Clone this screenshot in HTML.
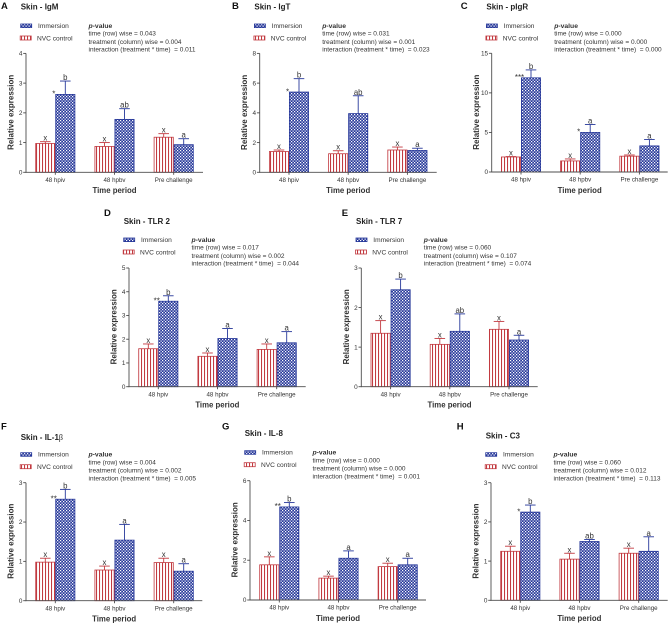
<!DOCTYPE html>
<html lang="en">
<head>
<meta charset="utf-8">
<title>Skin gene expression panels</title>
<style>
html,body{margin:0;padding:0;background:#fff;}
#figure{display:block;width:672px;height:626px;filter:blur(0.3px);}
text{font-family:"Liberation Sans",Arial,sans-serif;fill:#333;white-space:pre;}
</style>
</head>
<body>
<svg id="figure" xmlns="http://www.w3.org/2000/svg" width="672" height="626" viewBox="0 0 672 626">
<defs>
<pattern id="check" patternUnits="userSpaceOnUse" width="3" height="3">
<rect width="3" height="3" fill="#27389a"/>
<rect x="0" y="0" width="1.25" height="1.25" fill="#fff"/>
<rect x="1.5" y="1.5" width="1.25" height="1.25" fill="#fff"/>
</pattern>
<pattern id="stripe" patternUnits="userSpaceOnUse" width="3" height="3">
<rect width="3" height="3" fill="#fff"/>
<rect x="0" y="0" width="1.05" height="3" fill="#c23a40"/>
</pattern>
</defs>
</svg>
<script>
const categories = ["48 hpiv", "48 hpbv", "Pre challenge"];
const seriesNames = ["NVC control", "Immersion"];

const panelIds = ["A", "B", "C", "D", "E", "F", "G", "H"];
const panelGenes = ["IgM", "IgT", "pIgR", "TLR 2", "TLR 7", "IL-1", "IL-8", "C3"];

const yTicksA = [0, 1, 2, 3, 4];
const yTicksB = [0, 2, 4, 6, 8];
const yTicksC = [0, 5, 10, 15];
const yTicksD = [0, 1, 2, 3, 4, 5];
const yTicksE = [0, 1, 2, 3];
const yTicksF = [0, 1, 2, 3];
const yTicksG = [0, 2, 4, 6];
const yTicksH = [0, 1, 2, 3];

const controlA = [0.97, 0.87, 1.18];
const controlErrTopA = [1.03, 1.0, 1.3];
const immersionA = [2.62, 1.78, 0.93];
const immersionErrTopA = [3.07, 2.14, 1.13];

const controlB = [1.4, 1.25, 1.5];
const controlErrTopB = [1.5, 1.45, 1.7];
const immersionB = [5.4, 3.95, 1.47];
const immersionErrTopB = [6.3, 5.15, 1.62];

const controlC = [1.9, 1.4, 2.0];
const controlErrTopC = [1.95, 1.65, 2.15];
const immersionC = [11.9, 5.0, 3.3];
const immersionErrTopC = [12.9, 6.0, 4.1];

const controlD = [1.6, 1.28, 1.57];
const controlErrTopD = [1.8, 1.42, 1.8];
const immersionD = [3.6, 2.03, 1.85];
const immersionErrTopD = [3.83, 2.45, 2.32];

const controlE = [1.35, 1.07, 1.45];
const controlErrTopE = [1.67, 1.22, 1.65];
const immersionE = [2.45, 1.4, 1.18];
const immersionErrTopE = [2.72, 1.84, 1.3];

const controlF = [0.98, 0.78, 0.97];
const controlErrTopF = [1.08, 0.88, 1.08];
const immersionF = [2.58, 1.54, 0.75];
const immersionErrTopF = [2.83, 1.94, 0.94];

const controlG = [1.77, 1.1, 1.68];
const controlErrTopG = [2.17, 1.2, 1.85];
const immersionG = [4.68, 2.1, 1.77];
const immersionErrTopG = [4.9, 2.47, 2.1];

const controlH = [1.25, 1.05, 1.2];
const controlErrTopH = [1.38, 1.2, 1.33];
const immersionH = [2.25, 1.5, 1.25];
const immersionErrTopH = [2.43, 1.55, 1.62];

const lettersA = ["b", "ab", "a"];
const lettersB = ["b", "ab", "a"];
const lettersC = ["b", "a", "a"];
const lettersD = ["b", "a", "a"];
const lettersE = ["b", "ab", "a"];
const lettersF = ["b", "a", "a"];
const lettersG = ["b", "a", "a"];
const lettersH = ["b", "ab", "a"];

const starsA = ["*", "", ""];
const starsB = ["*", "", ""];
const starsC = ["***", "*", ""];
const starsD = ["**", "", ""];
const starsE = ["", "", ""];
const starsF = ["**", "", ""];
const starsG = ["**", "", ""];
const starsH = ["*", "", ""];

const pTimeValues = ["0.043", "0.031", "0.000", "0.017", "0.060", "0.004", "0.000", "0.060"];
const pTreatmentValues = ["0.004", "0.001", "0.000", "0.002", "0.107", "0.002", "0.000", "0.012"];
const pInteractionValues = ["0.011", "0.023", "0.000", "0.044", "0.074", "0.005", "0.001", "0.113"];

const panelData = [
  [yTicksA, controlA, controlErrTopA, immersionA, immersionErrTopA, lettersA, starsA],
  [yTicksB, controlB, controlErrTopB, immersionB, immersionErrTopB, lettersB, starsB],
  [yTicksC, controlC, controlErrTopC, immersionC, immersionErrTopC, lettersC, starsC],
  [yTicksD, controlD, controlErrTopD, immersionD, immersionErrTopD, lettersD, starsD],
  [yTicksE, controlE, controlErrTopE, immersionE, immersionErrTopE, lettersE, starsE],
  [yTicksF, controlF, controlErrTopF, immersionF, immersionErrTopF, lettersF, starsF],
  [yTicksG, controlG, controlErrTopG, immersionG, immersionErrTopG, lettersG, starsG],
  [yTicksH, controlH, controlErrTopH, immersionH, immersionErrTopH, lettersH, starsH]
];

/* Layout only: axis origin, top, right end, title/legend offsets, panel letter position */
const layouts = [
  {x0: 26, y0: 172.3, top: 53.4, end: 203, titleDy: -162.7, legendDy: -144.3, letterX: 1, letterY: 9},
  {x0: 259.7, y0: 172.3, top: 53.4, end: 436.7, titleDy: -162.7, legendDy: -144.3, letterX: 232, letterY: 9},
  {x0: 491.7, y0: 172, top: 53.3, end: 667.7, titleDy: -162.4, legendDy: -144, letterX: 460.7, letterY: 9},
  {x0: 129, y0: 386.7, top: 268, end: 305.7, titleDy: -162.7, legendDy: -144.7, letterX: 104, letterY: 216},
  {x0: 361.3, y0: 386.7, top: 268, end: 537.7, titleDy: -162.7, legendDy: -144.7, letterX: 341.7, letterY: 216},
  {x0: 26, y0: 600.7, top: 482.7, end: 202.3, titleDy: -160.7, legendDy: -144, letterX: 1, letterY: 429.5},
  {x0: 250, y0: 600, top: 480.7, end: 426, titleDy: -164, legendDy: -145.3, letterX: 222, letterY: 429.5},
  {x0: 491, y0: 600.3, top: 482.7, end: 667.7, titleDy: -162, legendDy: -143.6, letterX: 456.7, letterY: 429.5}
];

const SVG_NS = "http://www.w3.org/2000/svg";
const figure = document.getElementById("figure");
const axisColor = "#4d4d4d";
const blueColor = "#27389a";
const redColor = "#c23a40";

function make(parent, tag, attrs, content) {
  const node = document.createElementNS(SVG_NS, tag);
  for (const key in attrs) {
    node.setAttribute(key, attrs[key]);
  }
  if (content !== undefined) {
    node.textContent = content;
  }
  parent.appendChild(node);
  return node;
}

function yScale(layout, ticks) {
  const maxValue = ticks[ticks.length - 1];
  return function (v) {
    return layout.y0 - (v / maxValue) * (layout.y0 - layout.top);
  };
}

function xScale(layout) {
  return function (groupIndex, seriesIndex) {
    return layout.x0 + 9.3 + groupIndex * 59.2 + seriesIndex * 20;
  };
}

function drawBar(g, label, x, yTop, y0, fill, color, errY, letter) {
  let el = make(g, "line", {x1: x + 10, x2: x + 10, y1: yTop, y2: errY, stroke: color, "stroke-width": 0.9});
  
  
  el = make(g, "line", {x1: x + 4.7, x2: x + 15.3, y1: errY, y2: errY, stroke: color, "stroke-width": 0.9});
  
  
  el = make(g, "rect", {x: x + 0.4, y: yTop, width: 19.2, height: y0 - yTop, fill: fill, stroke: color, "stroke-width": 0.8});
  
  
  el = make(g, "text", {x: x + 10, y: errY - 1, "text-anchor": "middle", "font-size": 7.8}, letter);
  
  
}

panelData.forEach(function (row, p) {
  const layout = layouts[p];
  const ticks = row[0];
  const control = row[1];
  const controlTop = row[2];
  const immersion = row[3];
  const immersionTop = row[4];
  const letters = row[5];
  const stars = row[6];
  const id = panelIds[p].toLowerCase();
  const y = yScale(layout, ticks);
  const x = xScale(layout);
  const x0 = layout.x0;
  const y0 = layout.y0;

  const g = make(figure, "g", {});
  
  

  let el = make(g, "text", {x: layout.letterX, y: layout.letterY, "font-size": 9.5, "font-weight": "bold", style: "fill:#111"}, panelIds[p]);
  
  

  el = make(g, "text", {x: x0 - 5.3, y: y0 + layout.titleDy, "font-size": 8, "font-weight": "bold", style: "fill:#222"}, "Skin - " + panelGenes[p]);
  
  
  if (panelGenes[p] === "IL-1") {
    const beta = make(el, "tspan", {style: "font-family:'Liberation Serif',serif;font-weight:normal"}, "\u03B2");
    
    
  }

  const legY = y0 + layout.legendDy;
  el = make(g, "rect", {x: x0 - 5.3, y: legY - 4, width: 11, height: 3.6, fill: "url(#check)", stroke: blueColor, "stroke-width": 0.8});
  
  
  el = make(g, "text", {x: x0 + 12, y: legY, "font-size": 6.6}, seriesNames[1]);
  
  
  el = make(g, "rect", {x: x0 - 5.8, y: legY + 8, width: 11, height: 4, fill: "url(#stripe)", stroke: redColor, "stroke-width": 0.8});
  
  
  el = make(g, "text", {x: x0 + 11, y: legY + 12.3, "font-size": 6.6}, seriesNames[0]);
  
  

  const px = x0 + 62.5;
  el = make(g, "text", {x: px, y: legY, "font-size": 6.8, "font-weight": "bold"});
  
  
  const pItalic = make(el, "tspan", {"font-style": "italic"}, "p");
  
  
  const pRest = make(el, "tspan", {}, "-value");
  
  
  el = make(g, "text", {x: px, y: legY + 7.7, "font-size": 6.5}, "time (row) wise = " + pTimeValues[p]);
  
  
  el = make(g, "text", {x: px, y: legY + 15.8, "font-size": 6.5}, "treatment (column) wise = " + pTreatmentValues[p]);
  
  
  el = make(g, "text", {x: px, y: legY + 23.7, "font-size": 6.5}, "interaction (treatment * time)  = " + pInteractionValues[p]);
  
  

  categories.forEach(function (cat, c) {
    const key = id + "-g" + (c + 1);
    drawBar(g, "control-" + key, x(c, 0), y(control[c]), y0, "url(#stripe)", redColor, y(controlTop[c]), "x");
    drawBar(g, "immersion-" + key, x(c, 1), y(immersion[c]), y0, "url(#check)", blueColor, y(immersionTop[c]), letters[c]);
    if (stars[c]) {
      el = make(g, "text", {x: x(c, 1) - 1.5, y: y(immersion[c]) + 2.3, "text-anchor": "middle", "font-size": 8}, stars[c]);
      
      
    }
    const cx = x(c, 1);
    el = make(g, "line", {x1: cx, x2: cx, y1: y0, y2: y0 + 2.5, stroke: axisColor, "stroke-width": 0.9});
    
    
    el = make(g, "text", {x: cx, y: y0 + 9.6, "text-anchor": "middle", "font-size": 6.2}, cat);
    
    
  });

  el = make(g, "line", {x1: x0, x2: x0, y1: layout.top, y2: y0 + 0.4, stroke: axisColor, "stroke-width": 0.9});
  
  
  el = make(g, "line", {x1: x0 - 0.4, x2: layout.end, y1: y0, y2: y0, stroke: axisColor, "stroke-width": 0.9});
  
  

  ticks.forEach(function (t) {
    const ty = y(t);
    el = make(g, "line", {x1: x0 - 2.8, x2: x0, y1: ty, y2: ty, stroke: axisColor, "stroke-width": 0.9});
    
    
    el = make(g, "text", {x: x0 - 3.6, y: ty + 2.2, "text-anchor": "end", "font-size": 6.4}, String(t));
    
    
  });

  const midY = (y0 + layout.top) / 2 - 0.5;
  const lx = x0 - 12.5;
  el = make(g, "text", {x: lx, y: midY, "text-anchor": "middle", "font-size": 8, "font-weight": "bold", transform: "rotate(-90 " + lx + " " + midY + ")", style: "fill:#333"}, "Relative expression");
  
  

  el = make(g, "text", {x: (x0 + layout.end) / 2, y: y0 + 20.8, "text-anchor": "middle", "font-size": 7.8, "font-weight": "bold", style: "fill:#333"}, "Time period");
  
  
});
</script>
</body>
</html>
